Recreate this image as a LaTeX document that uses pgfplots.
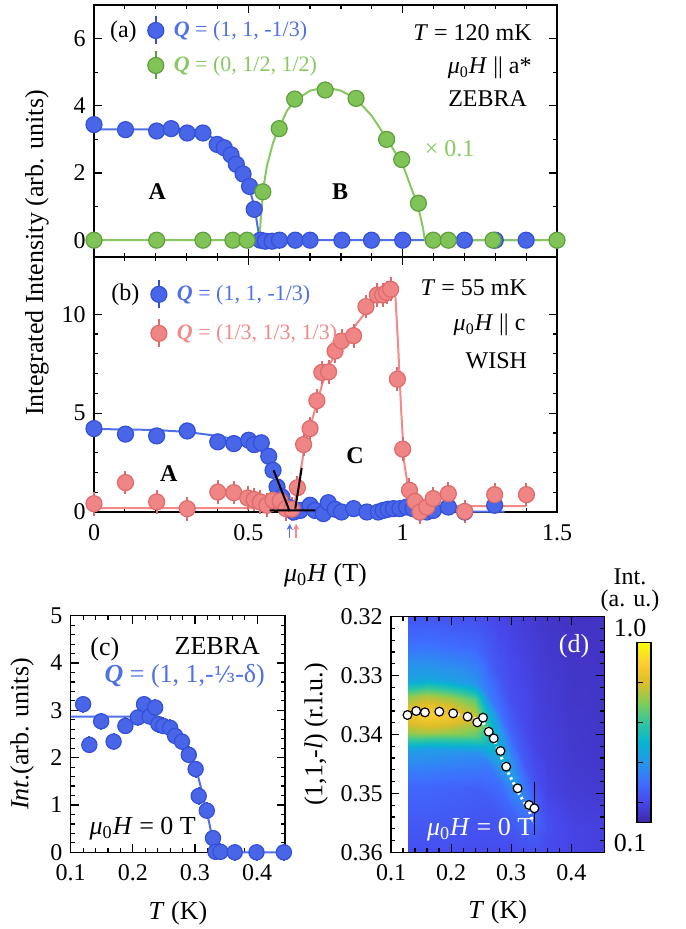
\documentclass[border=0pt]{standalone}
\usepackage{pgfplots}
\pgfplotsset{compat=1.18}
\usepackage{fontspec}
\setmainfont{Liberation Serif}
\newfontfamily\dejavu[Scale=0.85]{DejaVu Serif}
\usetikzlibrary{arrows.meta}
\newcommand{\fs}{\fontsize{12}{14}\selectfont}
\newcommand{\fl}{\fontsize{13}{15}\selectfont}
\newcommand{\fsm}{\fontsize{11}{13}\selectfont}
\newcommand{\muH}{\textit{μ}\textsubscript{0}\textit{H}}

\definecolor{bfill}{HTML}{4A66E8}
\definecolor{bedge}{HTML}{3350D8}
\definecolor{bline}{HTML}{5070E8}
\definecolor{gfill}{HTML}{80C457}
\definecolor{gedge}{HTML}{5E9E3C}
\definecolor{gline}{HTML}{88C860}
\definecolor{rfill}{HTML}{F08585}
\definecolor{redge}{HTML}{DE6B6B}
\definecolor{rline}{HTML}{F28A8A}

\pgfplotsset{
  colormap={parula}{rgb255=(62,38,168) rgb255=(71,71,235) rgb255=(62,111,255)
    rgb255=(39,150,235) rgb255=(8,180,208) rgb255=(49,198,159) rgb255=(129,204,89)
    rgb255=(220,189,41) rgb255=(252,207,48) rgb255=(249,251,14)},
  base/.style={scale only axis, anchor=south west, clip=false,
    /pgf/number format/assume math mode=true,
    tick label style={font=\fs}, label style={font=\fl},
    xticklabel style={yshift=-2pt},
    major tick length=4pt, minor tick length=2pt,
    axis line style={line width=0.7pt}, every tick/.style={black, line width=0.6pt}},
  bpts/.style={only marks, mark=*, mark size=4pt, color=bedge,
    mark options={fill=bfill, draw=bedge, line width=0.6pt}},
  gpts/.style={only marks, mark=*, mark size=4pt, color=gedge,
    mark options={fill=gfill, draw=gedge, line width=0.6pt}},
  rpts/.style={only marks, mark=*, mark size=4pt, color=redge,
    mark options={fill=rfill, draw=redge, line width=0.6pt}},
  errleg/.style={legend image code/.code={%
    \draw[##1, mark=none, line width=1pt] (0pt,-7pt) -- (0pt,7pt);
    \draw[##1, line width=0.6pt] plot coordinates {(0pt,0pt)};}},
  leg/.style={legend cell align=left, legend style={draw=none, fill=none, font=\fsm,
    inner sep=0pt, nodes={inner sep=1pt}}},
}

\begin{document}
\fs
\begin{tikzpicture}
\useasboundingbox (0,0) rectangle (342.5pt,-464.5pt);

% ---------- (a)
\begin{axis}[base, at={(47pt,-128.5pt)}, width=231.5pt, height=126pt,
  xmin=0, xmax=1.5, ymin=-0.5, ymax=7, xtick={0,0.5,1,1.5}, xticklabels={},
  minor x tick num=4, ytick={0,2,4,6}, minor y tick num=1, leg,
  legend style={at={(axis cs:0.173,6.7)}, anchor=north west, row sep=2.5pt}]
\addplot[bline, line width=1pt, forget plot] coordinates {(0,3.3) (0.3,3.3) (0.35,3.25)
  (0.4,2.95) (0.44,2.6) (0.47,2.2) (0.5,1.65) (0.52,1.0) (0.53,0.4) (0.537,0) (1.45,0)};
\addplot[gline, line width=1pt, forget plot] coordinates {(0,0) (0.536,0) (0.54,0.6)
  (0.548,1.5) (0.56,2.2) (0.58,2.9) (0.6,3.35) (0.625,3.85) (0.65,4.15) (0.7,4.45)
  (0.75,4.55) (0.8,4.45) (0.85,4.2) (0.9,3.7) (0.95,3.0) (1.0,2.25) (1.03,1.5)
  (1.05,1.0) (1.065,0.4) (1.072,0) (1.5,0)};
\addplot[bpts, forget plot] coordinates {(0,3.44) (0.102,3.29) (0.203,3.25) (0.25,3.32)
  (0.302,3.19) (0.353,3.19) (0.399,2.85) (0.422,2.75) (0.444,2.54) (0.461,2.26)
  (0.483,1.97) (0.504,1.6) (0.519,0.92) (0.539,0) (0.555,-0.03) (0.577,-0.03)
  (0.601,0) (0.652,0) (0.7,0) (0.803,0) (0.899,0) (1.0,0) (1.2,0) (1.3,0) (1.4,0)};
\addplot[gpts, forget plot] coordinates {(0,0) (0.203,0) (0.353,0) (0.45,0) (0.496,0)
  (0.547,1.44) (0.6,3.32) (0.65,4.2) (0.749,4.47) (0.849,4.22) (0.948,3.0)
  (0.997,2.4) (1.051,1.1) (1.099,0) (1.148,0) (1.293,0) (1.5,0)};
\addlegendimage{errleg, color=bedge, mark=*, mark size=4pt, mark options={fill=bfill, draw=bedge}}
\addlegendentry{\hspace*{4pt}\textcolor{bline}{\textbf{\textit{Q}} = (1, 1, -1/3)}}
\addlegendimage{errleg, color=gedge, mark=*, mark size=4pt, mark options={fill=gfill, draw=gedge}}
\addlegendentry{\hspace*{4pt}\textcolor{gline}{\textbf{\textit{Q}} = (0, 1/2, 1/2)}}
\node at (axis cs:0.095,6.2) {(a)};
\node[anchor=east] at (axis cs:1.445,6.17) {\textit{T} = 120 mK};
\node[anchor=east] at (axis cs:1.445,5.12) {\muH\ || a*};
\node[anchor=east] at (axis cs:1.43,4.22) {ZEBRA};
\node at (axis cs:0.205,1.44) {\textbf{A}};
\node at (axis cs:0.797,1.44) {\textbf{B}};
\node[anchor=west, text=gline] at (axis cs:1.045,2.72) {× 0.1};
\end{axis}

% ---------- (b)
\begin{axis}[base, at={(47pt,-256pt)}, width=231.5pt, height=127.5pt,
  xmin=0, xmax=1.5, ymin=0, ymax=12.9, xtick={0,0.5,1,1.5},
  xticklabels={0,0.5,1,1.5}, minor x tick num=4, ytick={0,5,10}, minor y tick num=4,
  xlabel={\muH\ (T)}, xlabel style={at={(axis description cs:0.5,-0.25)}, anchor=center},
  leg, legend style={at={(axis cs:0.183,11.79)}, anchor=north west, row sep=4.5pt}]
\addplot[bline, line width=1pt, forget plot] coordinates {(0,4.2) (0.2,4.15) (0.3,4.05)
  (0.4,3.85) (0.45,3.7) (0.5,3.45) (0.54,3.1) (0.57,2.5) (0.59,1.7) (0.61,0.9)
  (0.63,0.3) (0.65,0.02) (1.33,0.02)};
\addplot[rline, line width=1pt, forget plot] coordinates {(0,0.2) (0.645,0.2) (0.66,1.2)
  (0.675,2.6) (0.685,3.6) (0.7,4.3) (0.72,5.4) (0.74,6.5) (0.76,7.4) (0.8,8.4)
  (0.85,9.5) (0.9,10.5) (0.95,11.1) (0.975,11.35) (0.985,8.5) (0.995,5.2)
  (1.005,2.5) (1.02,1.0) (1.035,0.45) (1.05,0.3) (1.4,0.3)};
\addplot[bpts, forget plot, error bars/.cd, y dir=both, y fixed=0.35,
  error mark=none, error bar style={line width=1pt, bedge}] coordinates {
  (0,4.22) (0.102,3.94) (0.203,3.85) (0.302,4.1) (0.401,3.55) (0.453,3.46)
  (0.501,3.63) (0.519,3.41) (0.542,3.5) (0.566,2.82) (0.58,2.11) (0.593,1.27)
  (0.609,0.76) (0.63,0.25) (0.647,0) (0.668,0.08) (0.7,0.34) (0.716,0.08)
  (0.743,-0.08) (0.759,0.47) (0.781,0.14) (0.802,0) (0.841,0.17) (0.884,0)
  (0.921,0) (0.937,0.08) (0.953,0.14) (0.97,0.17) (0.991,0.17) (1.013,0.25)
  (1.034,0.17) (1.056,0) (1.078,0) (1.099,0.08) (1.148,0.25) (1.201,0) (1.298,0.34)};
\addplot[rpts, forget plot, error bars/.cd, y dir=both, y fixed=0.6,
  error mark=none, error bar style={line width=1pt, redge}] coordinates {
  (0,0.42) (0.102,1.49) (0.203,0.51) (0.302,0.17) (0.401,1.01) (0.453,0.98)
  (0.498,0.71) (0.519,0.63) (0.539,0.51) (0.56,0.34) (0.58,0.59) (0.603,0.56)
  (0.622,0.17) (0.641,0.14) (0.659,1.23) (0.679,3.41) (0.7,4.22) (0.722,5.63)
  (0.738,7.06) (0.76,7.09) (0.781,8.14) (0.802,8.65) (0.841,8.92) (0.881,10.39)
  (0.918,10.98) (0.935,10.98) (0.948,11.11) (0.961,11.27) (0.983,6.72) (1.0,3.18)
  (1.022,1.1) (1.04,0.54) (1.056,0) (1.078,0.25) (1.099,0.68) (1.148,0.93)
  (1.201,0.03) (1.298,0.88) (1.401,0.88)};
\addlegendimage{errleg, color=bedge, mark=*, mark size=4pt, mark options={fill=bfill, draw=bedge}}
\addlegendentry{\hspace*{4pt}\textcolor{bline}{\textbf{\textit{Q}} = (1, 1, -1/3)}}
\addlegendimage{errleg, color=redge, mark=*, mark size=4pt, mark options={fill=rfill, draw=redge}}
\addlegendentry{\hspace*{4pt}\textcolor{rline}{\textbf{\textit{Q}} = (1/3, 1/3, 1/3)}}
\coordinate (h1) at (axis cs:0.569,0.08);
\coordinate (h2) at (axis cs:0.717,0.08);
\coordinate (s1) at (axis cs:0.582,2.11);
\coordinate (s2) at (axis cs:0.634,0.03);
\coordinate (t1) at (axis cs:0.652,0.17);
\coordinate (t2) at (axis cs:0.673,2.23);
\draw[-{Stealth[length=3pt,width=3pt]}, bline, line width=0.8pt] (axis cs:0.634,-1.3) -- (axis cs:0.634,-0.6);
\draw[-{Stealth[length=3pt,width=3pt]}, rline, line width=0.8pt] (axis cs:0.655,-1.3) -- (axis cs:0.655,-0.6);
\node at (axis cs:0.102,11.0) {(b)};
\node[anchor=east] at (axis cs:1.43,11.32) {\textit{T} = 55 mK};
\node[anchor=east] at (axis cs:1.425,9.46) {\muH\ || c};
\node[anchor=east] at (axis cs:1.43,7.64) {WISH};
\node at (axis cs:0.242,1.94) {\textbf{A}};
\node at (axis cs:0.846,2.87) {\textbf{C}};
\end{axis}
\draw[line width=1pt] (h1) -- (h2) (s1) -- (s2) (t1) -- (t2);
\node[rotate=90, font=\fl] at (18.5pt,-126.5pt) {Integrated Intensity (arb. units)};

% ---------- (c)
\begin{axis}[base, at={(35.35pt,-426.15pt)}, width=107.2pt, height=118.3pt,
  xmin=0.1, xmax=0.445, ymin=0, ymax=5, xtick={0.1,0.2,0.3,0.4},
  xticklabels={0.1,0.2,0.3,0.4}, ytick={0,1,2,3,4,5}, minor x tick num=4, minor y tick num=4,
  xlabel={\textit{T} (K)}, xlabel style={at={(axis description cs:0.5,-0.256)}, anchor=center},
  ylabel={\textit{Int.}(arb. units)}, ylabel style={at={(axis description cs:-0.227,0.5)}, anchor=center}]
\addplot[bline, line width=1pt] coordinates {(0.1,2.87) (0.23,2.87) (0.25,2.72) (0.27,2.5)
  (0.285,2.25) (0.3,1.85) (0.31,1.35) (0.32,0.8) (0.328,0.3) (0.333,0) (0.445,0)};
\addplot[bpts, mark size=3.8pt, error bars/.cd, y dir=both, y fixed=0.18,
  error mark=none, error bar style={line width=1pt, bedge}] coordinates {
  (0.12,3.13) (0.13,2.27) (0.149,2.77) (0.169,2.34) (0.188,2.67) (0.208,2.85)
  (0.218,3.13) (0.227,2.87) (0.236,3.06) (0.241,2.71) (0.249,2.67) (0.26,2.63)
  (0.268,2.46) (0.279,2.34) (0.29,2.06) (0.301,1.76) (0.306,1.19) (0.319,0.88)
  (0.329,0.3) (0.333,0.01) (0.341,0.01) (0.364,0) (0.399,0) (0.443,0)};
\node[font=\fl] at (axis cs:0.155,4.29) {(c)};
\node[font=\fl, anchor=east] at (axis cs:0.418,4.36) {ZEBRA};
\node[font=\fl, anchor=east, text=bline] at (axis cs:0.426,3.73) {\textbf{\textit{Q}} = (1, 1,-{\dejavu ⅓}-δ)};
\node[font=\fl, anchor=west] at (axis cs:0.117,0.49) {\muH\ = 0 T};
\end{axis}

% ---------- (d)
\begin{axis}[base, clip=true, at={(195.5pt,-426.15pt)}, width=106.7pt, height=117.8pt,
  xmin=0.1, xmax=0.455, ymin=0.32, ymax=0.36, y dir=reverse,
  xtick={0.1,0.2,0.3,0.4}, xticklabels={0.1,0.2,0.3,0.4},
  ytick={0.32,0.33,0.34,0.35,0.36}, yticklabels={0.32,0.33,0.34,0.35,0.36},
  minor x tick num=4, minor y tick num=4, axis on top,
  xlabel={\textit{T} (K)}, xlabel style={at={(axis description cs:0.5,-0.256)}, anchor=center},
  ylabel={(1,1,-\textit{l}) (r.l.u.)}, ylabel style={at={(axis description cs:-0.351,0.5)}, anchor=center},
  colormap name=parula, point meta min=0.1, point meta max=1.0, colorbar,
  colorbar style={at={(parent axis.north east)}, anchor=north west, xshift=7.85pt,
    yshift=-13pt, width=7pt, height=89.8pt, scale only axis,
    ytick={0.2,0.4,0.6,0.8}, yticklabels={}, ytick pos=left, tick align=inside,
    major tick length=3pt, axis line style={line width=0.7pt}}]
\addplot[surf, shader=interp, point meta=explicit, mesh/ordering=y varies]
  table[x=x, y=y, meta=v] {
x y v
0.128 0.32 0.24
0.128 0.3247 0.30
0.128 0.3307 0.45
0.128 0.3337 0.72
0.128 0.3367 0.86
0.128 0.3397 0.72
0.128 0.3427 0.42
0.128 0.3487 0.28
0.128 0.36 0.22

0.16 0.32 0.24
0.16 0.3245 0.30
0.16 0.3305 0.45
0.16 0.3335 0.75
0.16 0.3365 0.90
0.16 0.3395 0.75
0.16 0.3425 0.42
0.16 0.3485 0.28
0.16 0.36 0.22

0.20 0.32 0.23
0.20 0.3248 0.29
0.20 0.3308 0.43
0.20 0.3338 0.73
0.20 0.3368 0.87
0.20 0.3398 0.72
0.20 0.3428 0.40
0.20 0.3488 0.27
0.20 0.36 0.22

0.24 0.32 0.22
0.24 0.3252 0.28
0.24 0.3312 0.40
0.24 0.3342 0.66
0.24 0.3372 0.80
0.24 0.3402 0.66
0.24 0.3432 0.38
0.24 0.3492 0.26
0.24 0.36 0.21

0.26 0.32 0.21
0.26 0.327 0.26
0.26 0.333 0.34
0.26 0.336 0.50
0.26 0.339 0.62
0.26 0.342 0.50
0.26 0.345 0.33
0.26 0.351 0.25
0.26 0.36 0.21

0.28 0.32 0.19
0.28 0.330 0.24
0.28 0.336 0.31
0.28 0.339 0.42
0.28 0.342 0.50
0.28 0.345 0.42
0.28 0.348 0.30
0.28 0.354 0.24
0.28 0.36 0.21

0.30 0.32 0.18
0.30 0.3345 0.22
0.30 0.3405 0.28
0.30 0.3435 0.36
0.30 0.3465 0.43
0.30 0.3495 0.36
0.30 0.3525 0.28
0.30 0.3565 0.23
0.30 0.36 0.21

0.32 0.32 0.17
0.32 0.3385 0.21
0.32 0.3445 0.25
0.32 0.3475 0.31
0.32 0.3505 0.36
0.32 0.3535 0.31
0.32 0.3565 0.26
0.32 0.3585 0.23
0.32 0.36 0.22

0.34 0.32 0.16
0.34 0.342 0.19
0.34 0.348 0.22
0.34 0.351 0.25
0.34 0.354 0.28
0.34 0.356 0.26
0.34 0.358 0.24
0.34 0.359 0.23
0.34 0.36 0.22

0.36 0.32 0.15
0.36 0.344 0.18
0.36 0.350 0.19
0.36 0.353 0.21
0.36 0.356 0.22
0.36 0.3575 0.21
0.36 0.3585 0.21
0.36 0.3592 0.21
0.36 0.36 0.21

0.40 0.32 0.14
0.40 0.344 0.16
0.40 0.350 0.17
0.40 0.353 0.18
0.40 0.356 0.19
0.40 0.3575 0.19
0.40 0.3585 0.19
0.40 0.3592 0.19
0.40 0.36 0.19

0.455 0.32 0.14
0.455 0.344 0.15
0.455 0.350 0.16
0.455 0.353 0.17
0.455 0.356 0.18
0.455 0.3575 0.18
0.455 0.3585 0.18
0.455 0.3592 0.18
0.455 0.36 0.18
};
\addplot[white, line width=1.5pt, dash pattern=on 1.2pt off 1.6pt] coordinates {
  (0.21,0.3366) (0.25,0.3375) (0.27,0.3405) (0.29,0.3455) (0.31,0.3495)
  (0.33,0.353) (0.335,0.3545)};
\addplot[only marks, mark=*, mark size=2.2pt, mark options={fill=white, draw=black, line width=0.6pt}]
  coordinates {(0.1274,0.33669) (0.1419,0.33601) (0.1564,0.33624) (0.1804,0.33612)
  (0.2034,0.33641) (0.2274,0.33697) (0.2436,0.33794) (0.2531,0.33714) (0.2626,0.33952)
  (0.2709,0.34065) (0.2821,0.3428) (0.2916,0.34546) (0.3106,0.34914) (0.3296,0.35197)
  (0.3385,0.35253)};
\draw[black, line width=0.7pt] (axis cs:0.3385,0.348) -- (axis cs:0.3385,0.3571);
\node[font=\fl, text=white] at (axis cs:0.4045,0.325) {(d)};
\node[font=\fl, anchor=west, text=white] at (axis cs:0.146,0.3561) {\muH\ = 0 T};
\end{axis}
\node[font=\fl] at (315pt,-314pt) {1.0};
\node[font=\fl] at (315pt,-421.5pt) {0.1};
\node at (315pt,-288.5pt) {Int.};
\node at (315pt,-300.5pt) {(a. u.)};
\end{tikzpicture}
\end{document}
